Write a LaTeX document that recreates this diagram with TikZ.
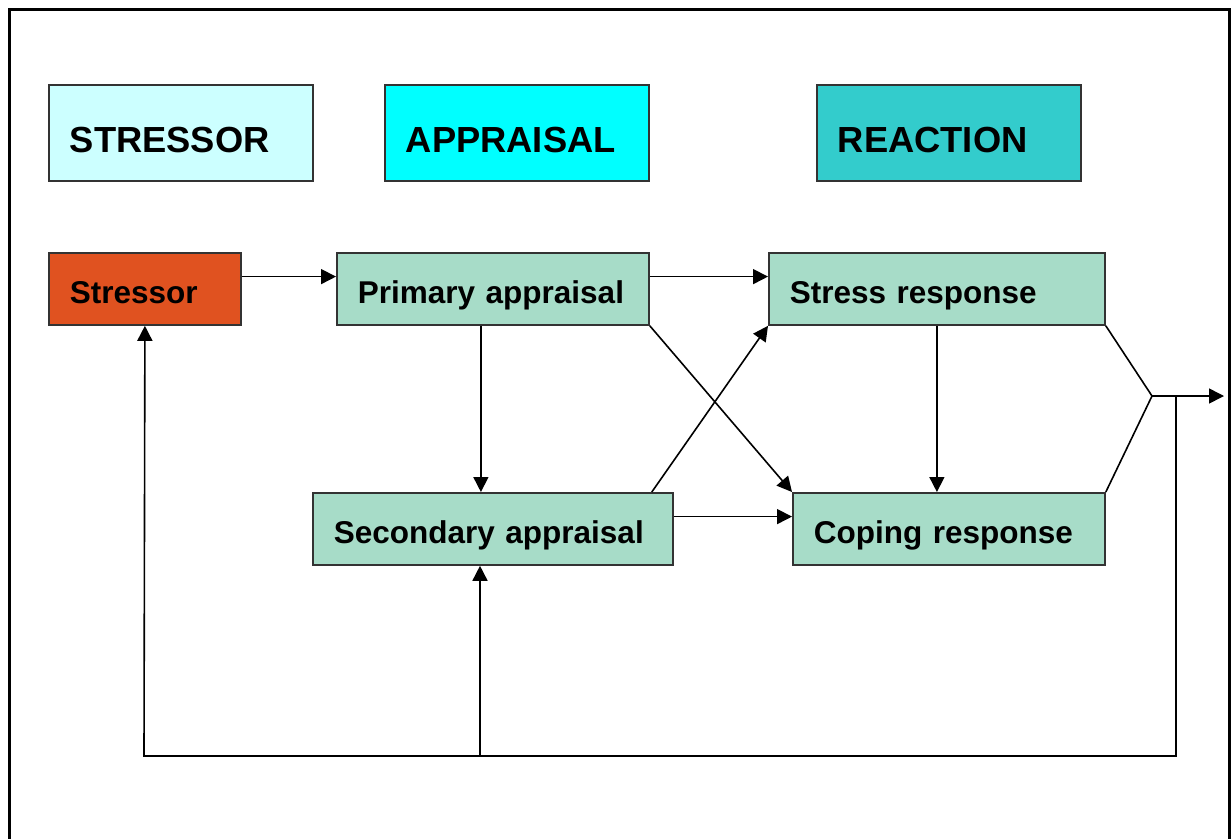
\documentclass[tikz,border=0pt]{standalone}
\usepackage{fontspec}
\setmainfont{Liberation Sans}
\usetikzlibrary{arrows.meta,calc}
\definecolor{paleCyan}{HTML}{CCFFFF}
\definecolor{brightCyan}{HTML}{00FFFF}
\definecolor{deepCyan}{HTML}{33CCCC}
\definecolor{stressRed}{HTML}{E05220}
\definecolor{boxGreen}{HTML}{A7DCC8}

\begin{document}
\begin{tikzpicture}[x=1pt,y=-1pt,
  head/.style={draw=black!80, line width=1.8pt, anchor=north west,
    minimum height=96pt, inner xsep=21pt, text width=222pt, align=left,
    font={\bfseries\fontsize{36.3}{40}\selectfont}, text height=40pt, text depth=0pt},
  stage/.style={draw=black!80, line width=1.8pt, anchor=north west,
    minimum height=72pt, inner xsep=21pt, align=left, fill=boxGreen,
    font={\bfseries\fontsize{31.5}{36}\selectfont}, text height=30pt, text depth=0pt},
  link/.style={line width=1.6pt, -{Triangle[length=15pt,width=15pt]}},
  plain/.style={line width=1.6pt}]

\useasboundingbox (0,0) rectangle (1231,838);

% outer frame
\draw[line width=3pt] (9,9) rectangle (1229,870);

% column headings
\node[head, fill=paleCyan] (hstressor) at (48,84) {STRESSOR};
\node[head, fill=brightCyan] (happraisal) at (384,84) {APPRAISAL};
\node[head, fill=deepCyan] (hreaction) at (816,84) {REACTION};

% stages
\node[stage, fill=stressRed, text width=150pt] (stressor) at (48,252) {Stressor};
\node[stage, text width=270pt] (primary) at (336,252) {Primary appraisal};
\node[stage, text width=294pt] (stress) at (768,252) {Stress response};
\node[stage, text width=318pt] (secondary) at (312,492) {Secondary appraisal};
\node[stage, text width=270pt] (coping) at (792,492) {Coping response};

% helper points
\coordinate (join) at (1152,396);
\coordinate (tee) at (1176,396);
\coordinate (out) at (1224,396);
\coordinate (loopR) at (1176,756);
\coordinate (loopM) at (480,756);
\coordinate (loopL) at (144,756);

% forward links
\draw[link] ($(stressor.north east)!1/3!(stressor.south east)$) -- ($(primary.north west)!1/3!(primary.south west)$);
\draw[link] ($(primary.north east)!1/3!(primary.south east)$) -- ($(stress.north west)!1/3!(stress.south west)$);
\draw[link] ([xshift=-12pt]primary.south) -- ([xshift=-12pt]primary.south |- secondary.north);
\draw[link] (primary.south east) -- (coping.north west);
\draw[link] ([xshift=-22pt]secondary.north east) -- (stress.south west);
\draw[link] ($(secondary.north east)!1/3!(secondary.south east)$) -- ($(coping.north west)!1/3!(coping.south west)$);
\draw[link] (stress.south) -- (stress.south |- coping.north);

% outcome
\draw[plain] (stress.south east) -- (join) -- (coping.north east);
\draw[link] (join) -- (out);

% feedback loop
\draw[link] (tee) -- (loopR) -- (loopL) -- (stressor.south);
\draw[link] (loopM) -- (loopM |- secondary.south);

\end{tikzpicture}
\end{document}
